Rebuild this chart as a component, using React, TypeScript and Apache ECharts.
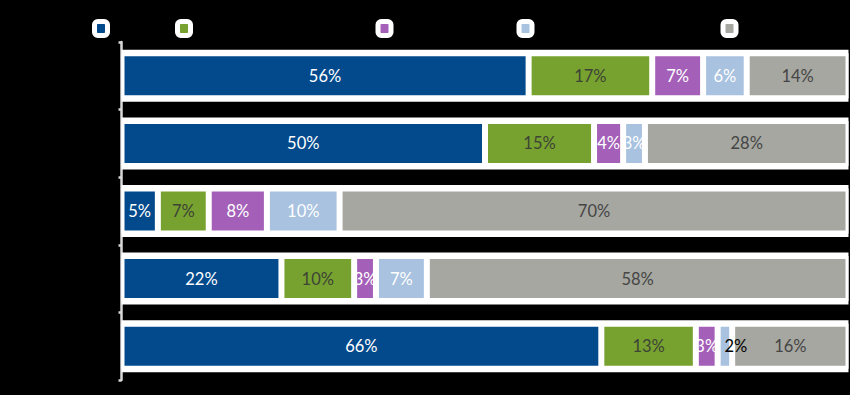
import React, { useEffect, useRef } from "react";
import * as echarts from "echarts";

const categories = ["Row 1", "Row 2", "Row 3", "Row 4", "Row 5"];
const seriesNames = ["Series 1", "Series 2", "Series 3", "Series 4", "Series 5"];
const s1 = [56, 50, 5, 22, 66];
const s2 = [17, 15, 7, 10, 13];
const s3 = [7, 4, 8, 3, 3];
const s4 = [6, 3, 10, 7, 2];
const s5 = [14, 28, 70, 58, 16];
const colors = ["#034a8c", "#77a22f", "#a45fb8", "#a8c2e0", "#a5a7a0"];
const labelColors = ["#ffffff", "#3d4436", "#ffffff", "#ffffff", "#454545"];
const legendCenters = [98.5, 181.5, 382, 523, 727];

export default function App() {
  const ref = useRef<HTMLDivElement>(null);
  useEffect(() => {
    document.body.style.margin = "0";
    const chart = echarts.init(ref.current!, null, { renderer: "svg" });
    const all = [s1, s2, s3, s4, s5];
    const totals = categories.map((_, i) => all.reduce((a, s) => a + s[i], 0));
    const font = "Lato, 'DejaVu Sans', sans-serif";
    const colored = all.map((vals, si) => ({
      name: seriesNames[si],
      type: "bar",
      stack: "total",
      yAxisIndex: 0,
      barWidth: 45,
      z: 3,
      itemStyle: { color: colors[si], borderColor: "#ffffff", borderWidth: 3 },
      label: {
        show: true,
        position: "inside",
        formatter: "{c}%",
        color: labelColors[si],
        fontFamily: font,
        fontSize: 16.5,
      },
      data: vals.map((v, i) => {
        if (si === 3 && i === 4) {
          return { value: v, label: { color: "#000000", offset: [11, 0] } };
        }
        return v;
      }),
    }));
    const legends = seriesNames.map((n, i) => ({
      data: [n],
      left: legendCenters[i] - 6.5,
      top: 19,
      padding: 0,
      itemWidth: 13,
      itemHeight: 14,
      itemStyle: { borderColor: "#ffffff", borderWidth: 5, borderRadius: 2 },
      textStyle: { color: "#000000", fontSize: 12, fontFamily: font },
      selectedMode: false,
    }));
    chart.setOption({
      animation: false,
      backgroundColor: "#000000",
      legend: legends,
      grid: { left: 121.5, right: 1.5, top: 42, bottom: 15, containLabel: false },
      xAxis: { type: "value", min: 0, max: 100, show: false },
      yAxis: [
        {
          type: "category",
          data: categories,
          inverse: true,
          offset: 2.5,
          axisLine: { show: true, lineStyle: { color: "#d9d9d9", width: 2.5 } },
          axisTick: { show: true, length: 3, lineStyle: { color: "#d9d9d9", width: 2.5 } },
          axisLabel: { show: false },
          splitLine: { show: false },
        },
        {
          type: "category",
          data: categories,
          inverse: true,
          show: false,
        },
      ],
      series: [
        {
          name: "bg",
          type: "bar",
          yAxisIndex: 1,
          barWidth: 52,
          z: 1,
          silent: true,
          itemStyle: { color: "#ffffff" },
          label: { show: false },
          data: totals,
        },
        ...colored,
      ],
    });
    return () => chart.dispose();
  }, []);
  return <div ref={ref} style={{ width: 850, height: 395 }} />;
}
